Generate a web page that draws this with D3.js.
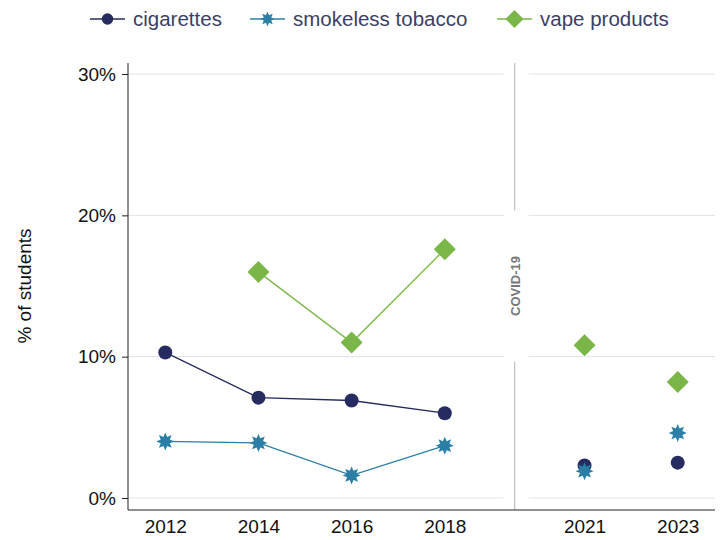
<!DOCTYPE html>
<html>
<head>
<meta charset="utf-8">
<script src="https://cdn.jsdelivr.net/npm/d3@7"></script>
<style>
  body { margin: 0; background: #fff; }
  svg text { font-family: "Liberation Sans", Arial, sans-serif; }
</style>
</head>
<body>
<svg class="chart" width="727" height="540"></svg>
<script>
// years and where they sit on the index axis (gap for covid break)
var years = ["2012", "2014", "2016", "2018", "2021", "2023"];
var yearPos = [0, 1, 2, 3, 4.5, 5.5];
var breakPos = 3.75;

var cigarettes = [10.3, 7.1, 6.9, 6.0, 2.3, 2.5];
var smokeless = [4.0, 3.9, 1.6, 3.7, 1.9, 4.6];
var vape = [null, 16.0, 11.0, 17.6, 10.8, 8.2];

var yTicks = [0, 10, 20, 30];

var series = [
  {name: "cigarettes", values: cigarettes, color: "#262c60", shape: "circle"},
  {name: "smokeless tobacco", values: smokeless, color: "#2b7fa6", shape: "star"},
  {name: "vape products", values: vape, color: "#7ab648", shape: "diamond"}
];

var svg = d3.select("svg.chart"),
  margin = {top: 63, right: 12, bottom: 30, left: 128},
  width = +svg.attr("width") - margin.left - margin.right,
  height = +svg.attr("height") - margin.top - margin.bottom,
  g = svg.append("g").attr("transform", "translate(" + margin.left + "," + margin.top + ")");

var x = d3.scaleLinear().domain([-0.4, 5.9]).range([0, width]);
var y = d3.scaleLinear().domain([0, 30.78]).range([height - 12, 0]);

var bx = x(breakPos);

// gridlines, broken around the covid divider
yTicks.forEach(function(t) {
  g.append("line").attr("x1", 0).attr("x2", bx - 11).attr("y1", y(t)).attr("y2", y(t))
    .attr("stroke", "#e3e3e3").attr("stroke-width", 1);
  g.append("line").attr("x1", bx + 14).attr("x2", width).attr("y1", y(t)).attr("y2", y(t))
    .attr("stroke", "#e3e3e3").attr("stroke-width", 1);
});

// covid divider
g.append("line").attr("x1", bx).attr("x2", bx).attr("y1", 0).attr("y2", y(20) - 5)
  .attr("stroke", "#bdbdbd").attr("stroke-width", 1.2);
g.append("line").attr("x1", bx).attr("x2", bx).attr("y1", y(10) + 5).attr("y2", height)
  .attr("stroke", "#bdbdbd").attr("stroke-width", 1.2);
g.append("text")
  .attr("transform", "translate(" + (bx + 5) + "," + y(15) + ") rotate(-90)")
  .attr("text-anchor", "middle")
  .attr("font-size", 13).attr("font-weight", "bold").attr("fill", "#777")
  .text("COVID-19");

// y axis
var yAxis = g.append("g")
  .call(d3.axisLeft(y).tickValues(yTicks).tickSize(6).tickSizeOuter(0)
    .tickFormat(function(d) { return d + "%"; }));
yAxis.select(".domain").attr("d", "M0,0V" + height).attr("stroke", "#222");
yAxis.selectAll(".tick line").attr("stroke", "#222");
yAxis.selectAll(".tick text").attr("font-size", 19).attr("fill", "#111").attr("x", -12)
  .attr("font-family", "Liberation Sans, Arial, sans-serif");

// x axis
var xAxis = g.append("g").attr("transform", "translate(0," + height + ")")
  .call(d3.axisBottom(x).tickValues(yearPos).tickSize(0).tickSizeOuter(0)
    .tickFormat(function(d, i) { return years[i]; }));
xAxis.select(".domain").attr("d", "M0,0H" + width).attr("stroke", "#222");
xAxis.selectAll(".tick text").attr("font-size", 19).attr("fill", "#111").attr("dy", "1.05em")
  .attr("font-family", "Liberation Sans, Arial, sans-serif");

svg.append("text")
  .attr("transform", "translate(31," + (margin.top + y(15)) + ") rotate(-90)")
  .attr("text-anchor", "middle").attr("font-size", 19).attr("fill", "#111")
  .text("% of students");

// markers
var starPath = function(r) {
  var pts = [];
  for (var i = 0; i < 16; i++) {
    var a = Math.PI * i / 8 - Math.PI / 2, rr = i % 2 === 0 ? r : r * 0.55;
    pts.push([rr * Math.cos(a), rr * Math.sin(a)]);
  }
  return "M" + pts.join("L") + "Z";
};
var marker = function(sel, s) {
  if (s.shape === "circle") sel.append("circle").attr("r", 7).attr("fill", s.color);
  else if (s.shape === "star") sel.append("path").attr("d", starPath(9)).attr("fill", s.color);
  else sel.append("path").attr("d", "M0,-11L11,0L0,11L-11,0Z").attr("fill", s.color);
};

var line = d3.line()
  .defined(function(d) { return d.v != null; })
  .x(function(d) { return x(d.p); })
  .y(function(d) { return y(d.v); });

series.forEach(function(s) {
  var pts = s.values.map(function(v, i) { return {p: yearPos[i], v: v}; });
  g.append("path").datum(pts.slice(0, 4))
    .attr("d", line).attr("fill", "none").attr("stroke", s.color).attr("stroke-width", 1.3);
});
series.forEach(function(s) {
  s.values.forEach(function(v, i) {
    if (v == null) return;
    var m = g.append("g").attr("transform", "translate(" + x(yearPos[i]) + "," + y(v) + ")");
    marker(m, s);
  });
});

// legend
var legendX = [90, 250, 497];
series.forEach(function(s, i) {
  var lg = svg.append("g").attr("transform", "translate(" + legendX[i] + ",19)");
  lg.append("line").attr("x1", 0).attr("x2", 35).attr("stroke", s.color).attr("stroke-width", 1.5);
  var m = lg.append("g").attr("transform", "translate(17.5,0) scale(0.82)");
  marker(m, s);
  lg.append("text").attr("x", 43).attr("dy", "0.35em")
    .attr("font-size", 20.5).attr("fill", "#3b3f66")
    .attr("font-family", "Noto Sans, sans-serif")
    .text(s.name);
});
</script>
</body>
</html>
